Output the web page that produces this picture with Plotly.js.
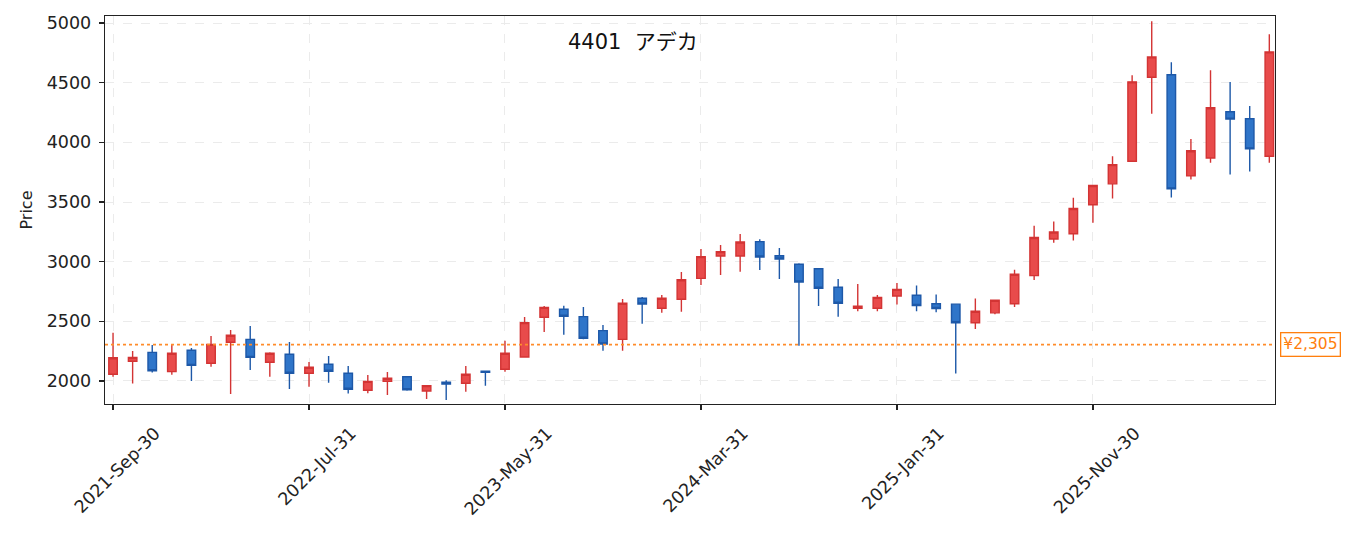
<!DOCTYPE html>
<html>
<head>
<meta charset="utf-8">
<script src="https://cdn.plot.ly/plotly-3.0.1.min.js"></script>
<style>
  html, body { margin: 0; padding: 0; background: #fff; }
  #plot { width: 1355px; height: 534px; }
</style>
</head>
<body>
<div id="plot"></div>
<script>
// monthly bars, 4401 アデカ
var dates = [
  "2021-09-30", "2021-10-31", "2021-11-30", "2021-12-31", "2022-01-31", "2022-02-28",
  "2022-03-31", "2022-04-30", "2022-05-31", "2022-06-30", "2022-07-31", "2022-08-31",
  "2022-09-30", "2022-10-31", "2022-11-30", "2022-12-31", "2023-01-31", "2023-02-28",
  "2023-03-31", "2023-04-30", "2023-05-31", "2023-06-30", "2023-07-31", "2023-08-31",
  "2023-09-30", "2023-10-31", "2023-11-30", "2023-12-31", "2024-01-31", "2024-02-29",
  "2024-03-31", "2024-04-30", "2024-05-31", "2024-06-30", "2024-07-31", "2024-08-31",
  "2024-09-30", "2024-10-31", "2024-11-30", "2024-12-31", "2025-01-31", "2025-02-28",
  "2025-03-31", "2025-04-30", "2025-05-31", "2025-06-30", "2025-07-31", "2025-08-31",
  "2025-09-30", "2025-10-31", "2025-11-30", "2025-12-31", "2026-01-31", "2026-02-28",
  "2026-03-31", "2026-04-30", "2026-05-31", "2026-06-30", "2026-07-31", "2026-08-31"
];

var opens = [
  2056, 2165, 2240, 2078, 2257, 2148, 2324, 2349, 2157, 2224,
  2065, 2140, 2065, 1922, 1997, 2036, 1916, 1989, 1981, 2081,
  2098, 2201, 2534, 2601, 2539, 2422, 2349, 2693, 2609, 2685,
  2860, 3048, 3048, 3168, 3050, 2978, 2941, 2785, 2609, 2609,
  2712, 2719, 2647, 2644, 2488, 2571, 2647, 2883, 3190, 3234,
  3477, 3652, 3842, 4546, 4566, 3719, 3869, 4256, 4198, 3884
];
var highs = [
  2405, 2251, 2302, 2302, 2277, 2377, 2427, 2461, 2240, 2327,
  2159, 2209, 2126, 2050, 2075, 2036, 1961, 2006, 2126, 2083,
  2338, 2536, 2629, 2631, 2620, 2469, 2687, 2704, 2721, 2913,
  3106, 3140, 3232, 3187, 3115, 2986, 2944, 2855, 2813, 2721,
  2821, 2800, 2725, 2647, 2691, 2680, 2933, 3301, 3337, 3535,
  3642, 3884, 4563, 5014, 4672, 4028, 4605, 4505, 4304, 4906
];
var lows = [
  2036, 1978, 2070, 2053, 2000, 2120, 1891, 2092, 2036, 1933,
  1952, 1986, 1894, 1897, 1883, 1919, 1849, 1841, 1910, 1961,
  2078, 2198, 2411, 2388, 2349, 2254, 2254, 2480, 2572, 2581,
  2804, 2888, 2916, 2930, 2855, 2296, 2629, 2539, 2584, 2584,
  2640, 2585, 2577, 2062, 2435, 2560, 2619, 2847, 3159, 3178,
  3326, 3530, 3840, 4240, 3538, 3688, 3830, 3730, 3755, 3830
];
var closes = [
  2195, 2198, 2086, 2232, 2131, 2307, 2383, 2198, 2232, 2065,
  2115, 2081, 1930, 1997, 2023, 1927, 1961, 1975, 2056, 2073,
  2232, 2489, 2617, 2542, 2358, 2310, 2651, 2645, 2693, 2849,
  3042, 3084, 3165, 3039, 3022, 2830, 2777, 2651, 2626, 2701,
  2768, 2633, 2608, 2488, 2585, 2677, 2894, 3203, 3248, 3446,
  3638, 3813, 4507, 4716, 3610, 3930, 4290, 4195, 3945, 4758
];

var tickIdx = [0, 10, 20, 30, 40, 50];
var tickLabels = ["2021-Sep-30", "2022-Jul-31", "2023-May-31", "2024-Mar-31", "2025-Jan-31", "2025-Nov-30"];
var yTicks = [2000, 2500, 3000, 3500, 4000, 4500, 5000];
var refPrice = 2305;

var fontFam = "'DejaVu Sans', 'Noto Sans CJK JP', sans-serif";

var trace = {
  type: "candlestick",
  x: dates,
  open: opens,
  high: highs,
  low: lows,
  close: closes,
  increasing: { fillcolor: "#e84b4b", line: { color: "#d33434", width: 1.4 } },
  decreasing: { fillcolor: "#2f75c9", line: { color: "#1d58a8", width: 1.4 } },
  whiskerwidth: 0,
  hoverinfo: "skip",
  showlegend: false
};

var layout = {
  width: 1355,
  height: 534,
  margin: { l: 105, r: 80, t: 16, b: 130 },
  paper_bgcolor: "#ffffff",
  plot_bgcolor: "#ffffff",
  font: { family: fontFam, size: 17, color: "#222" },
  boxgap: 0.38,
  xaxis: {
    type: "category",
    range: [-0.41, 59.29],
    tickvals: tickIdx.map(i => dates[i]),
    ticktext: tickLabels,
    tickangle: -45,
    ticklabelshift: 42,
    ticklabelstandoff: 6,
    ticks: "outside",
    ticklen: 5,
    tickwidth: 1.3,
    tickcolor: "#222",
    showline: true,
    linecolor: "#222",
    linewidth: 1.3,
    mirror: true,
    showgrid: true,
    gridcolor: "#ebebeb",
    griddash: "dash",
    gridwidth: 1,
    rangeslider: { visible: false },
    tickfont: { family: fontFam, size: 17.5, color: "#222" },
    fixedrange: true
  },
  yaxis: {
    range: [1807, 5059],
    tickvals: yTicks,
    ticks: "outside",
    ticklen: 5,
    tickwidth: 1.3,
    tickcolor: "#222",
    ticklabelstandoff: 4,
    showline: true,
    linecolor: "#222",
    linewidth: 1.3,
    mirror: true,
    showgrid: true,
    gridcolor: "#ebebeb",
    griddash: "dash",
    gridwidth: 1,
    zeroline: false,
    tickfont: { family: fontFam, size: 17.5, color: "#222" },
    title: { text: "Price", font: { family: fontFam, size: 16, color: "#222" }, standoff: 10 },
    fixedrange: true
  },
  shapes: [{
    type: "line",
    xref: "paper", x0: 0, x1: 1,
    yref: "y", y0: refPrice, y1: refPrice,
    line: { color: "#ff8c2a", width: 1.6, dash: "dot" }
  }],
  annotations: [
    {
      xref: "paper", yref: "paper",
      x: 0.4513, y: 0.933,
      xanchor: "center", yanchor: "middle",
      text: "4401\u00a0\u00a0アデカ",
      showarrow: false,
      font: { family: fontFam, size: 21, color: "#111" }
    },
    {
      xref: "paper", yref: "y",
      x: 1.004, y: refPrice,
      xanchor: "left", yanchor: "middle",
      text: "¥" + refPrice.toLocaleString("en-US"),
      showarrow: false,
      font: { family: fontFam, size: 15.5, color: "#ff7f0e" },
      bgcolor: "#ffffff",
      bordercolor: "#ff7f0e",
      borderwidth: 1.3,
      borderpad: 2
    }
  ]
};

Plotly.newPlot("plot", [trace], layout, { staticPlot: true, displayModeBar: false });
</script>
</body>
</html>
